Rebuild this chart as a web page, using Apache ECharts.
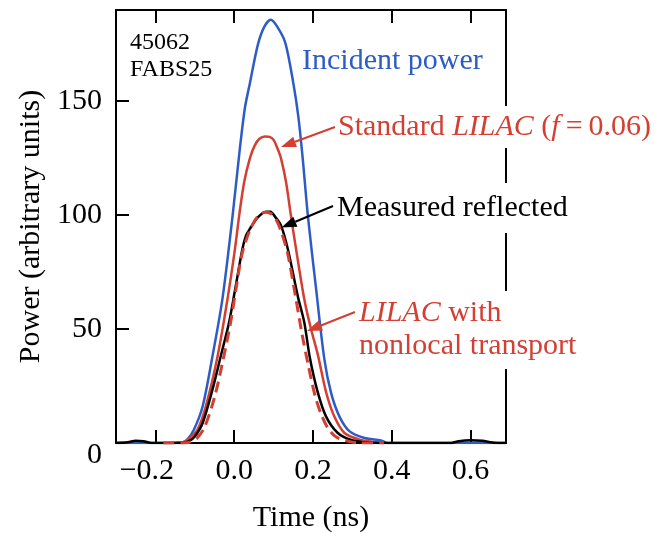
<!DOCTYPE html>
<html>
<head>
<meta charset="utf-8">
<script src="https://cdn.jsdelivr.net/npm/echarts@6/dist/echarts.min.js"></script>
<style>html,body{margin:0;padding:0;background:#fff;}#c{width:663px;height:533px;}</style>
</head>
<body>
<div id="c"></div>
<script>
// ---- data ----
const xTicks = [-0.2, 0.0, 0.2, 0.4, 0.6];
const yTicks = [0, 50, 100, 150];

const incidentT = [-0.30, -0.15, -0.13, -0.119, -0.102, -0.08, -0.055, -0.03, -0.004, 0.013, 0.027, 0.040, 0.060, 0.076, 0.093, 0.110, 0.130, 0.151, 0.163, 0.174, 0.187, 0.208, 0.229, 0.246, 0.267, 0.293, 0.331, 0.373, 0.39, 0.69];
const incidentP = [0, 0, 0.3, 1.5, 5.9, 16.1, 38.2, 63, 99.8, 127, 146.8, 158, 174.7, 182.5, 185.7, 182.5, 175.5, 157, 143, 124.8, 99.8, 67.5, 36.7, 22, 11.7, 5.1, 2.2, 1.1, 0, 0];

const standardT = [-0.18, -0.13, -0.115, -0.093, -0.072, -0.042, -0.017, 0.002, 0.0127, 0.0254, 0.040, 0.052, 0.064, 0.078, 0.090, 0.100, 0.110, 0.119, 0.1316, 0.144, 0.157, 0.178, 0.195, 0.212, 0.233, 0.254, 0.28, 0.322, 0.36, 0.38];
const standardP = [0, 0.3, 2, 5.9, 16.1, 38.2, 63.1, 85.2, 99.8, 114.5, 125, 130.5, 133.5, 134.5, 134.3, 133, 129.2, 124.8, 114.5, 99.8, 85.2, 63.1, 50, 39, 22.5, 11.7, 4.4, 1.3, 0.3, 0];

const measuredT = [-0.30, -0.27, -0.25, -0.23, -0.21, -0.13, -0.115, -0.10, -0.08, -0.055, -0.034, -0.013, 0.002, 0.021, 0.030, 0.040, 0.060, 0.081, 0.092, 0.105, 0.119, 0.136, 0.162, 0.178, 0.192, 0.211, 0.233, 0.263, 0.297, 0.33, 0.36, 0.55, 0.57, 0.60, 0.63, 0.65, 0.67, 0.69];
const measuredP = [0, 0.3, 1.0, 0.8, 0, 0, 0.8, 2.9, 8.8, 23.5, 38.2, 52.9, 67, 85.2, 91, 94, 99, 101.5, 101.5, 99, 95.4, 85.2, 64, 52.9, 37.5, 23, 11.7, 4.4, 1.3, 0.3, 0, 0, 0.8, 1.2, 1.0, 0.3, 0, 0];

const nonlocalT = [-0.18, -0.13, -0.11, -0.095, -0.075, -0.05, -0.03, -0.01, 0.005, 0.02, 0.04, 0.06, 0.08, 0.095, 0.108, 0.12, 0.136, 0.155, 0.172, 0.187, 0.205, 0.22, 0.238, 0.26, 0.29, 0.32, 0.38];
const nonlocalP = [0, 0, 0.5, 2, 7, 20, 35, 52, 68, 83, 93.5, 99.5, 101.3, 100.5, 97.5, 92.5, 83, 65, 48, 35, 21, 13, 6.5, 2.5, 0.8, 0, 0];

// ---- styling ----
const FONT = '"Liberation Serif", "Times New Roman", serif';
const BLUE = '#2D5CC6';
const RED = '#D33F33';
const zip = (a, b) => a.map((v, i) => [v, b[i]]);

const chart = echarts.init(document.getElementById('c'), null, {renderer: 'canvas'});

const axisLineStyle = {color: '#000', width: 2};
const tickStyle = {color: '#000', width: 2};

const option = {
  backgroundColor: '#fff',
  animation: false,
  grid: {left: 116, right: 157, top: 10, bottom: 90, containLabel: false, outerBoundsMode: 'none'},
  xAxis: [{
    type: 'value', min: -0.3, max: 0.69, position: 'bottom',
    splitLine: {show: false},
    axisLine: {show: true, onZero: false, lineStyle: axisLineStyle},
    axisTick: {show: true, inside: true, length: 13, lineStyle: tickStyle, customValues: xTicks},
    axisLabel: {
      show: true, margin: 13, customValues: xTicks,
      fontFamily: FONT, fontSize: 30, color: '#000',
      formatter: v => v < 0 ? '{n|\u2212' + Math.abs(v).toFixed(1) + '}' : Number(v).toFixed(1),
      rich: {n: {fontFamily: FONT, fontSize: 30, color: '#000', padding: [0, 17, 0, 0]}}
    },
    name: 'Time (ns)', nameLocation: 'middle', nameGap: 60,
    nameTextStyle: {fontFamily: FONT, fontSize: 30, color: '#000'}
  }, {
    type: 'value', min: -0.3, max: 0.69, position: 'top',
    splitLine: {show: false},
    axisLine: {show: true, onZero: false, lineStyle: axisLineStyle},
    axisTick: {show: true, inside: true, length: 13, lineStyle: tickStyle, customValues: xTicks},
    axisLabel: {show: false}
  }],
  yAxis: [{
    type: 'value', min: 0, max: 190, position: 'left',
    splitLine: {show: false},
    axisLine: {show: true, onZero: false, lineStyle: axisLineStyle},
    axisTick: {show: true, inside: true, length: 13, lineStyle: tickStyle, customValues: yTicks},
    axisLabel: {
      show: true, margin: 14, customValues: yTicks,
      fontFamily: FONT, fontSize: 30, color: '#000',
      formatter: v => v === 0 ? '{z|0}' : String(v),
      rich: {z: {fontFamily: FONT, fontSize: 30, color: '#000', padding: [24, 0, 0, 0]}}
    },
    name: 'Power (arbitrary units)', nameLocation: 'middle', nameGap: 63,
    nameTextStyle: {fontFamily: FONT, fontSize: 30, color: '#000'}
  }, {
    type: 'value', min: 0, max: 190, position: 'right',
    splitLine: {show: false},
    axisLine: {show: true, onZero: false, lineStyle: axisLineStyle},
    axisTick: {show: false},
    axisLabel: {show: false}
  }],
  series: [
    {name: 'Incident power', type: 'line', data: zip(incidentT, incidentP), showSymbol: false, smooth: 0.3,
     lineStyle: {color: BLUE, width: 2.5}, z: 2},
    {name: 'Standard LILAC', type: 'line', data: zip(standardT, standardP), showSymbol: false, smooth: 0.3,
     lineStyle: {color: RED, width: 2.5}, z: 3},
    {name: 'Measured reflected', type: 'line', data: zip(measuredT, measuredP), showSymbol: false, smooth: 0.3,
     lineStyle: {color: '#000', width: 2.5}, z: 4},
    {name: 'LILAC nonlocal', type: 'line', data: zip(nonlocalT, nonlocalP), showSymbol: false, smooth: 0.3,
     lineStyle: {color: RED, width: 3, type: [11, 6]}, z: 5}
  ]
};
chart.setOption(option);

// ---- annotations ----
function arrow(x1, y1, x2, y2, color) {
  const a = Math.atan2(y2 - y1, x2 - x1);
  const L = 15, W = 5.5;
  const bx = x2 - L * Math.cos(a), by = y2 - L * Math.sin(a);
  return [
    {type: 'line', z: 50, shape: {x1: x1, y1: y1, x2: bx, y2: by}, style: {stroke: color, lineWidth: 2}},
    {type: 'polygon', z: 50, shape: {points: [[x2, y2], [bx - W * Math.sin(a), by + W * Math.cos(a)], [bx + W * Math.sin(a), by - W * Math.cos(a)]]},
     style: {fill: color}}
  ];
}
function label(x, y, text, color, size, extra) {
  return {
    type: 'text', z: 60, x: x, y: y,
    style: Object.assign({text: text, fontFamily: FONT, fontSize: size, fill: color, verticalAlign: 'middle', align: 'left'}, extra || {})
  };
}
const italic = {fontFamily: FONT, fontSize: 30, fontStyle: 'italic', fill: RED};
const plain = {fontFamily: FONT, fontSize: 30, fill: RED};

chart.setOption({
  graphic: [
    label(130, 43, '45062', '#000', 24),
    label(130, 70, 'FABS25', '#000', 24),
    label(302, 61, 'Incident power', BLUE, 30),
    label(336, 127, '{p|Standard }{i|LILAC}{p| (}{i|f}{p|\u2009=\u20090.06)}', RED, 30,
      {rich: {i: italic, p: plain}, backgroundColor: '#fff', padding: [6, 2, 6, 2]}),
    label(335, 208, 'Measured reflected', '#000', 30, {backgroundColor: '#fff', padding: [10, 2, 10, 2]}),
    label(357, 330, '{i|LILAC}{p| with}\n{p|nonlocal transport}', RED, 30,
      {rich: {i: Object.assign({lineHeight: 33}, italic), p: Object.assign({lineHeight: 33}, plain)}, lineHeight: 33,
       backgroundColor: '#fff', padding: [6, 2, 6, 2]}),
    ...arrow(335, 127, 281, 147, RED),
    ...arrow(333, 206, 281.5, 227.5, '#000'),
    ...arrow(355, 312, 307, 331, RED)
  ]
});
</script>
</body>
</html>
